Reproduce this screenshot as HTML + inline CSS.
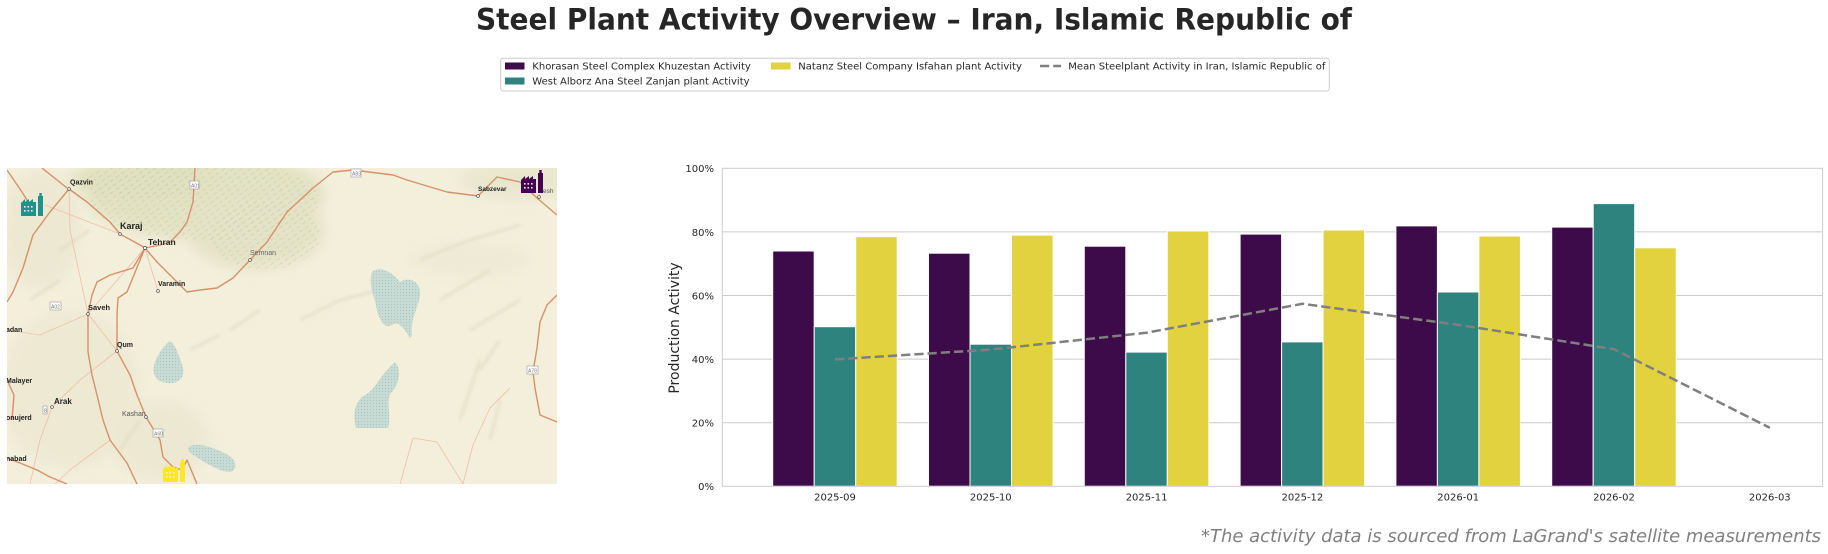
<!DOCTYPE html>
<html><head><meta charset="utf-8"><style>
html,body{margin:0;padding:0;background:#fff;}
body{width:1828px;height:554px;overflow:hidden;}
svg{display:block;}
</style></head><body>
<svg width="1828" height="554" viewBox="0 0 1828 554" xmlns="http://www.w3.org/2000/svg">
<defs>
<clipPath id="mapclip"><rect x="7" y="168" width="550" height="316"/></clipPath>
<filter id="blur6" x="-50%" y="-50%" width="200%" height="200%"><feGaussianBlur stdDeviation="6"/></filter>
<filter id="blur2" x="-50%" y="-50%" width="200%" height="200%"><feGaussianBlur stdDeviation="1.5"/></filter>
<pattern id="dots" width="3" height="3" patternUnits="userSpaceOnUse"><rect width="3" height="3" fill="#c8dbd4"/><circle cx="1.5" cy="1.5" r="0.6" fill="#a9c6c0"/></pattern>
<pattern id="hatch" width="7" height="5" patternUnits="userSpaceOnUse" patternTransform="rotate(-35)"><rect width="7" height="5" fill="none"/><line x1="0" y1="2" x2="4" y2="2" stroke="#bfc19b" stroke-width="0.8"/></pattern>
<g id="factory">
<path d="M0,23 V10 L4,6 V9 L8,6 V9 L12,6 V9 L15,9 V23 Z"/>
<rect x="17" y="3" width="5" height="20"/>
<rect x="18.3" y="0" width="2.4" height="3.5"/>
</g>
<g id="win">
<rect x="3" y="13" width="1.6" height="1.6"/><rect x="6.5" y="13" width="1.6" height="1.6"/><rect x="10" y="13" width="1.6" height="1.6"/>
<rect x="3" y="17" width="1.6" height="1.6"/><rect x="6.5" y="17" width="1.6" height="1.6"/><rect x="10" y="17" width="1.6" height="1.6"/>
</g>
</defs>

<!-- Title -->
<text x="914" y="29.3" text-anchor="middle" font-family="DejaVu Sans, Liberation Sans, sans-serif" font-weight="bold" font-size="29" fill="#262626" textLength="876" lengthAdjust="spacingAndGlyphs">Steel Plant Activity Overview – Iran, Islamic Republic of</text>

<!-- Legend -->
<rect x="500.7" y="58.3" width="828.6" height="32.7" rx="2.5" fill="#fff" stroke="#cccccc" stroke-width="1"/>
<g font-family="DejaVu Sans, Liberation Sans, sans-serif" font-size="10" fill="#262626">
<rect x="505" y="62.5" width="19.5" height="7" fill="#3d0b4a"/>
<text x="532.3" y="69.6">Khorasan Steel Complex Khuzestan Activity</text>
<rect x="505" y="77.5" width="19.5" height="7" fill="#2f837f"/>
<text x="532.3" y="84.6">West Alborz Ana Steel Zanjan plant Activity</text>
<rect x="771" y="62.5" width="19.5" height="7" fill="#e2d240"/>
<text x="798.3" y="69.6">Natanz Steel Company Isfahan plant Activity</text>
<line x1="1040" y1="66" x2="1061" y2="66" stroke="#7f7f7f" stroke-width="2.5" stroke-dasharray="9.25 4"/>
<text x="1068.3" y="69.6">Mean Steelplant Activity in Iran, Islamic Republic of</text>
</g>

<!-- MAP -->
<g clip-path="url(#mapclip)">
<rect x="7" y="168" width="550" height="316" fill="#f3efdb"/>
<!-- terrain shading -->
<g filter="url(#blur6)" opacity="0.8">
<ellipse cx="205" cy="195" rx="120" ry="45" fill="#dfe0bf"/>
<ellipse cx="255" cy="230" rx="70" ry="40" fill="#e2e1c3"/>
<ellipse cx="140" cy="180" rx="70" ry="22" fill="#dcdebb"/>
<ellipse cx="40" cy="230" rx="40" ry="60" fill="#ebe7d0"/>
<ellipse cx="70" cy="390" rx="70" ry="80" fill="#ece8d2"/>
<ellipse cx="520" cy="180" rx="60" ry="20" fill="#e7e5cb"/>
<ellipse cx="470" cy="260" rx="60" ry="18" fill="#eee9d4"/>
<ellipse cx="160" cy="440" rx="50" ry="40" fill="#ece7d0"/>
</g>
<g opacity="0.5">
<ellipse cx="205" cy="200" rx="115" ry="40" fill="url(#hatch)"/>
<ellipse cx="265" cy="235" rx="55" ry="35" fill="url(#hatch)"/>
<ellipse cx="140" cy="182" rx="60" ry="16" fill="url(#hatch)"/>
</g>
<g stroke="#e0d9bd" stroke-width="2" fill="none" filter="url(#blur2)" opacity="0.9">
<path d="M300,320 L340,300 L380,290"/>
<path d="M420,260 L470,240 L520,225"/>
<path d="M440,300 L490,270"/>
<path d="M470,330 L520,300"/>
<path d="M480,370 L500,340"/>
<path d="M460,420 L470,390 L480,360"/>
<path d="M230,330 L260,310"/>
<path d="M190,350 L220,335"/>
<path d="M60,250 L90,230"/>
<path d="M30,300 L60,280"/>
<path d="M120,450 L140,420"/>
<path d="M490,440 L500,400"/>
</g>
<!-- lakes -->
<g fill="url(#dots)">
<path d="M170,341 C176,345 180,358 183,368 C185,378 178,384 168,383 C157,382 152,376 154,366 C156,356 164,345 170,341Z"/>
<path d="M372,272 C380,265 392,272 400,282 C410,276 421,282 420,295 C418,310 410,318 412,336 L410,338 C404,328 398,320 392,325 C384,330 378,318 376,305 C374,295 368,285 372,272Z"/>
<path d="M395,362 C402,370 399,385 391,393 C385,402 392,415 388,428 L356,428 C352,412 356,400 365,395 C375,390 380,375 395,362Z"/>
<path d="M190,446 C200,442 215,448 228,455 C237,460 238,470 230,472 C220,472 205,463 195,456 C188,452 186,448 190,446Z"/>
</g>
<!-- minor roads -->
<g stroke="#f1bfa5" stroke-width="0.8" fill="none">
<path d="M69,189 L70,230 L88,314"/>
<path d="M45,205 L120,234"/>
<path d="M145,248 L88,314"/>
<path d="M117,351 L88,314"/>
<path d="M117,351 L80,380 L52,407"/>
<path d="M52,407 L40,440 L30,484"/>
<path d="M110,440 L70,470 L55,484"/>
<path d="M145,248 L158,291"/>
<path d="M510,388 L490,408 L473,445 L463,484"/>
<path d="M413,438 L437,442 L463,484"/>
<path d="M413,438 L400,484"/>
<path d="M7,330 L40,335 L88,314"/>
</g>
<!-- main roads -->
<g stroke="#d8906a" stroke-width="1.4" fill="none" stroke-linejoin="round">
<path d="M69,189 L50,212 L33,235 L23,268 L13,292 L7,302"/>
<path d="M7,170 L22,192 L30,205"/>
<path d="M69,189 L87,202 L110,222 L120,234 L140,245 L145,248"/>
<path d="M42,168 L67,188"/>
<path d="M145,248 L157,262 L173,278 L187,292 L200,290 L217,288 L233,278 L250,260 L267,242 L287,212 L313,188 L333,172 L353,170 L393,175 L407,180 L447,192 L478,196 L497,177 L520,182 L537,198 L557,215"/>
<path d="M195,168 L193,202 L187,222 L180,232 L170,242 L160,245 L145,248"/>
<path d="M145,248 L133,268 L110,275 L97,282 L92,295 L88,314 L88,352 L92,375 L97,395 L103,420 L110,440 L127,463 L137,484"/>
<path d="M145,248 L127,292 L118,298 L117,315 L117,351 L130,375 L137,395 L146,417 L160,440 L163,457 L173,467 L182,470 L187,460 L197,484"/>
<path d="M557,295 L547,305 L540,322 L537,348 L533,372 L535,388 L540,415 L557,422"/>
<path d="M7,458 L20,463 L37,470 L50,477 L67,484"/>
<path d="M7,380 L14,395 L12,420"/>
</g>
<!-- shields -->
<g fill="#fff" stroke="#9a9a9a" stroke-width="0.6">
<rect x="190" y="181" width="9" height="8"/>
<rect x="351" y="169" width="10" height="8"/>
<rect x="50" y="302" width="11" height="8"/>
<rect x="153" y="429" width="10" height="8"/>
<rect x="527" y="366" width="11" height="8"/>
<rect x="43" y="406" width="4" height="8"/>
</g>
<g font-family="Liberation Sans, sans-serif" font-size="5" fill="#777">
<text x="191" y="187.5">A01</text><text x="352" y="175.5">A83</text><text x="51" y="308.5">A02</text>
<text x="154" y="435.5">A60</text><text x="528" y="372.5">A78</text><text x="44" y="412.5">8</text>
</g>
<!-- city dots -->
<g fill="#fff" stroke="#555" stroke-width="0.7">
<circle cx="69" cy="189" r="1.4"/><circle cx="120" cy="234" r="1.4"/><circle cx="145" cy="248" r="1.6"/>
<circle cx="250" cy="260" r="1.4"/><circle cx="158" cy="291" r="1.4"/><circle cx="88" cy="314" r="1.4"/>
<circle cx="117" cy="351" r="1.4"/><circle cx="52" cy="407" r="1.4"/><circle cx="146" cy="417" r="1.4"/>
<circle cx="478" cy="196" r="1.4"/><circle cx="539" cy="197" r="1.4"/>
</g>
<g font-family="Liberation Sans, sans-serif" font-size="7.5" fill="#222" font-weight="bold">
<text x="70" y="184.5" font-size="7">Qazvin</text>
<text x="120" y="229" font-size="9">Karaj</text>
<text x="148" y="245" font-size="8.5">Tehran</text>
<text x="250" y="255" font-size="7" fill="#666" font-weight="normal">Semnan</text>
<text x="158" y="286" font-size="7">Varamin</text>
<text x="88" y="310" font-size="7.5">Saveh</text>
<text x="6" y="332" font-size="7">adan</text>
<text x="117" y="347" font-size="7">Qum</text>
<text x="6" y="383" font-size="7">Malayer</text>
<text x="54" y="404" font-size="8">Arak</text>
<text x="6" y="420" font-size="7">onujerd</text>
<text x="122" y="416" font-size="7" fill="#555" font-weight="normal">Kashan</text>
<text x="6" y="461" font-size="7">nabad</text>
<text x="478" y="191" font-size="6.5">Sabzevar</text>
<text x="543" y="193" font-size="6.5" fill="#555" font-weight="normal">esh</text>
</g>
<!-- icons -->
<g transform="translate(21,193)" fill="#21918c"><use href="#factory"/><g fill="#f2eed9"><use href="#win"/></g></g>
<g transform="translate(521,170)" fill="#440154"><use href="#factory"/><g fill="#f2eed9"><use href="#win"/></g></g>
<g transform="translate(163,459)" fill="#fde725"><use href="#factory"/><g fill="#f2eed9"><use href="#win"/></g></g>
</g>

<!-- CHART -->
<g stroke="#cccccc" stroke-width="1">
<line x1="722.3" y1="231.9" x2="1822.6" y2="231.9"/>
<line x1="722.3" y1="295.5" x2="1822.6" y2="295.5"/>
<line x1="722.3" y1="359.1" x2="1822.6" y2="359.1"/>
<line x1="722.3" y1="422.7" x2="1822.6" y2="422.7"/>
</g>
<g stroke="#fff" stroke-width="1">
<g fill="#3d0b4a">
<rect x="772.7" y="251.0" width="41.5" height="235.3"/>
<rect x="928.5" y="253.2" width="41.5" height="233.1"/>
<rect x="1084.3" y="246.2" width="41.5" height="240.1"/>
<rect x="1240.1" y="234.1" width="41.5" height="252.2"/>
<rect x="1395.9" y="225.9" width="41.5" height="260.4"/>
<rect x="1551.7" y="227.1" width="41.5" height="259.2"/>
</g>
<g fill="#2f837f">
<rect x="814.2" y="326.7" width="41.5" height="159.6"/>
<rect x="970.0" y="344.2" width="41.5" height="142.1"/>
<rect x="1125.8" y="352.1" width="41.5" height="134.2"/>
<rect x="1281.6" y="341.9" width="41.5" height="144.4"/>
<rect x="1437.4" y="292.0" width="41.5" height="194.3"/>
<rect x="1593.2" y="203.6" width="41.5" height="282.7"/>
</g>
<g fill="#e2d240">
<rect x="855.7" y="236.7" width="41.5" height="249.6"/>
<rect x="1011.5" y="235.1" width="41.5" height="251.2"/>
<rect x="1167.3" y="231.0" width="41.5" height="255.3"/>
<rect x="1323.1" y="230.0" width="41.5" height="256.3"/>
<rect x="1478.9" y="236.0" width="41.5" height="250.3"/>
<rect x="1634.7" y="247.8" width="41.5" height="238.5"/>
</g>
</g>
<!-- axes frame -->
<rect x="722.3" y="168.3" width="1100.3" height="318" fill="none" stroke="#cccccc" stroke-width="1"/>
<!-- mean line -->
<polyline points="835,359.4 990.8,349.6 1146.6,332.7 1302.4,303.8 1458.2,324.8 1614,349.2 1769.8,427.8" fill="none" stroke="#7f7f7f" stroke-width="2.5" stroke-dasharray="9.25 4"/>

<!-- tick labels -->
<g font-family="DejaVu Sans, Liberation Sans, sans-serif" font-size="10" fill="#262626" text-anchor="end">
<text x="714" y="172.2">100%</text>
<text x="714" y="235.8">80%</text>
<text x="714" y="299.4">60%</text>
<text x="714" y="363">40%</text>
<text x="714" y="426.6">20%</text>
<text x="714" y="490.2">0%</text>
</g>
<g font-family="DejaVu Sans, Liberation Sans, sans-serif" font-size="10" fill="#262626" text-anchor="middle">
<text x="835" y="500.6">2025-09</text>
<text x="990.8" y="500.6">2025-10</text>
<text x="1146.6" y="500.6">2025-11</text>
<text x="1302.4" y="500.6">2025-12</text>
<text x="1458.2" y="500.6">2026-01</text>
<text x="1614" y="500.6">2026-02</text>
<text x="1769.8" y="500.6">2026-03</text>
</g>
<text transform="translate(679,328) rotate(-90)" text-anchor="middle" font-family="DejaVu Sans, Liberation Sans, sans-serif" font-size="14" fill="#262626">Production Activity</text>

<!-- footnote -->
<text x="1821" y="542" text-anchor="end" font-family="DejaVu Sans, Liberation Sans, sans-serif" font-style="italic" font-size="18" fill="#808080" textLength="620" lengthAdjust="spacingAndGlyphs">*The activity data is sourced from LaGrand's satellite measurements</text>
</svg>
</body></html>
